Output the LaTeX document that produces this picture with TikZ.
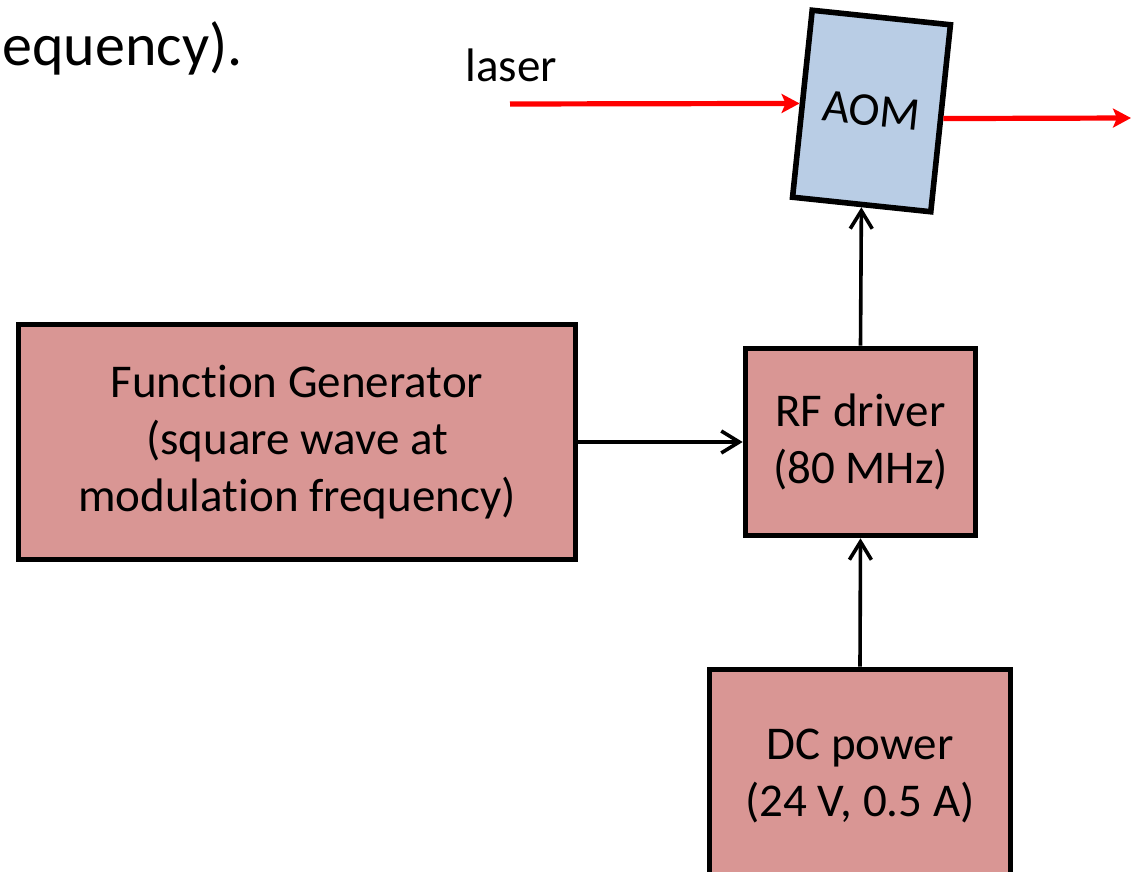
\documentclass[tikz,border=0pt]{standalone}
\usepackage{fontspec}
\setmainfont{Carlito}[Ligatures=NoCommon]
\definecolor{box}{RGB}{217, 150, 148}
\definecolor{crystal}{RGB}{185, 205, 229}
\definecolor{beam}{RGB}{255, 0, 0}
\usetikzlibrary{arrows.meta, positioning}

\begin{document}
\begin{tikzpicture}[x=0.5pt, y=-0.5pt,
        every node/.style={font=\fontsize{23.5pt}{28.5pt}\selectfont, align=center},
        unit/.style={rectangle, draw=black, line width=2.8pt, fill=box, inner sep=0pt},
        aomcell/.style={rectangle, draw=black, line width=2.8pt, fill=crystal, inner sep=0pt,
            minimum width=69.5pt, minimum height=94pt, rotate=-6},
        signal/.style={-{Straight Barb[length=9pt, width=11pt, line width=1.8pt]}, line width=1.8pt},
        ray/.style={-{Stealth[length=9pt, width=9.5pt, inset=2pt]}, line width=2.6pt, beam}
    ]
        \useasboundingbox (0,0) rectangle (1132,872);
        \clip (0,0) rectangle (1132,872);

        \node[anchor=base west, inner sep=0pt, font=\fontsize{30pt}{36pt}\selectfont] (caption) at (2,66) {equency).};

        \node[aomcell] (aom) at (871.5,111) {AOM};
        \node[unit, minimum width=278.5pt, minimum height=117.5pt] (fg) at (297,442) {Function Generator\\(square wave at\\modulation frequency)};
        \node[unit, minimum width=115pt, minimum height=93.5pt] (rf) at (860.5,442) {RF driver\\(80 MHz)};
        \node[unit, minimum width=150.5pt, minimum height=106.5pt] (dc) at (860,776) {DC power\\(24 V, 0.5 A)};

        \node[anchor=base west, inner sep=0pt] (laser) at (465,82) {laser};
        \coordinate (beamin) at (510,104);
        \coordinate (beamout) at (1131,118);

        \draw[ray] (beamin) -- (aom.west);
        \draw[ray] (aom.east) -- (beamout);

        \draw[signal] (fg.east) -- (rf.west);
        \draw[signal] (rf.north) -- (aom.south);
        \draw[signal] (dc.north) -- (rf.south);
    \end{tikzpicture}
\end{document}
